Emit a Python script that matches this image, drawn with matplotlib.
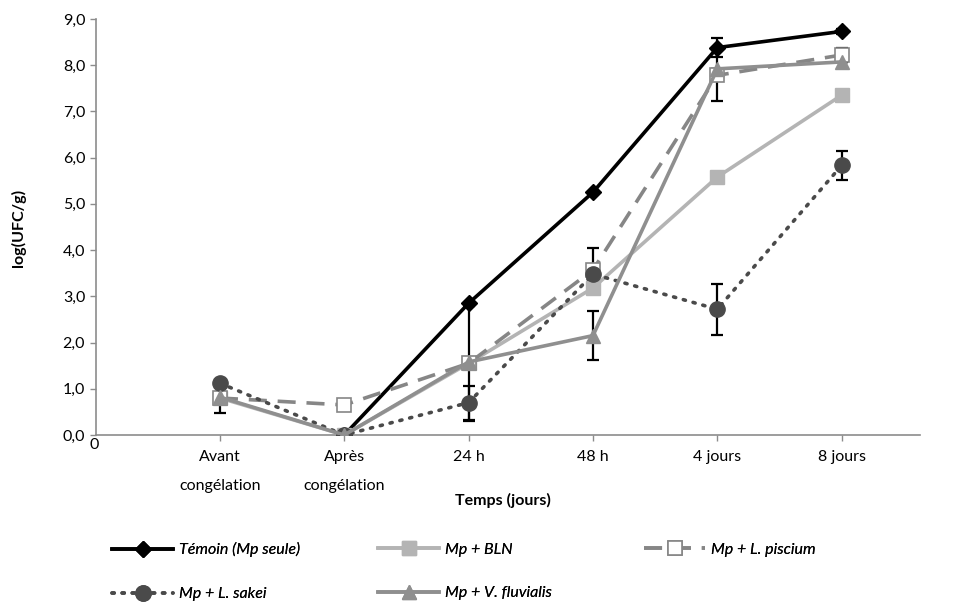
import numpy as np
import matplotlib
matplotlib.use("Agg")
import matplotlib.pyplot as plt
from matplotlib.ticker import FuncFormatter

plt.rcParams['font.family'] = ['Lato', 'DejaVu Sans']

categories = ["Avant\ncongélation", "Après\ncongélation", "24 h", "48 h", "4 jours", "8 jours"]
x_pos = [1, 2, 3, 4, 5, 6]

temoin = [np.nan, 0.0, 2.85, 5.25, 8.38, 8.73]
temoin_err = [0, 0, 0, 0, 0.2, 0.05]
bln = [0.8, 0.0, 1.55, 3.18, 5.58, 7.35]
bln_err = [0, 0, 0, 0, 0, 0]
piscium = [0.8, 0.65, 1.55, 3.57, 7.78, 8.22]
piscium_err = [0.33, 0.1, 1.25, 0.47, 0.55, 0.15]
sakei = [1.12, 0.0, 0.7, 3.48, 2.72, 5.83]
sakei_err = [0, 0, 0.37, 0, 0.55, 0.32]
fluvialis = [0.82, 0.0, 1.58, 2.15, 7.92, 8.07]
fluvialis_err = [0, 0, 0, 0.53, 0, 0]

fig = plt.figure(figsize=(9.57, 6.03), dpi=100)
ax = fig.add_axes([0.0999, 0.2786, 0.8614, 0.69])

err_kw = dict(ecolor="black", elinewidth=1.6, capsize=4, capthick=1.6, zorder=2)

def draw(y, err, **kw):
    ax.errorbar(x_pos, y, yerr=err, fmt="none", **err_kw)
    return ax.plot(x_pos, y, zorder=3, **kw)[0]

h_tem = draw(temoin, temoin_err, color="black", lw=2.6, marker="D", ms=8,
             label="Témoin (Mp seule)")
h_bln = draw(bln, bln_err, color="#b4b4b4", lw=2.6, marker="s", ms=10,
             label="Mp + BLN")
h_pis = draw(piscium, piscium_err, color="#868686", lw=2.6, ls=(0, (5, 3)), marker="s", ms=10,
             mfc="white", mec="#868686", mew=1.2, label="Mp + L. piscium")
h_sak = draw(sakei, sakei_err, color="#4a4a4a", lw=2.6, ls=(0, (0.6, 2.2)), dash_capstyle="round",
             marker="o", ms=11, label="Mp + L. sakei")
h_flu = draw(fluvialis, fluvialis_err, color="#8f8f8f", lw=2.6, marker="^", ms=10,
             label="Mp + V. fluvialis")

ax.set_xlim(0, 6.63)
ax.set_ylim(0, 9)
ax.set_yticks(np.arange(0, 10, 1))
ax.yaxis.set_major_formatter(FuncFormatter(lambda v, p: f"{v:.1f}".replace(".", ",")))
ax.set_xticks(x_pos)
ax.set_xticklabels(categories, linespacing=2.3, va="top")
ax.tick_params(axis="both", labelsize=11.5, color="#8c8c8c", length=4, width=1)
ax.tick_params(axis="x", pad=7)
for s in ["top", "right"]:
    ax.spines[s].set_visible(False)
for s in ["left", "bottom"]:
    ax.spines[s].set_color("#8c8c8c")
    ax.spines[s].set_linewidth(1.2)

fig.text(94 / 957, 1 - 445 / 603, "0", ha="center", va="center", fontsize=11.5)
fig.text(18 / 957, 1 - 228 / 603, "log(UFC/g)", rotation=90, ha="center", va="center",
         fontsize=11.5, fontweight="bold")
fig.text(503 / 957, 1 - 500 / 603, "Temps (jours)", ha="center", va="center",
         fontsize=11.5, fontweight="bold")

# one legend per column so the columns sit where Excel put them
columns = [([h_tem, h_sak], 106), ([h_bln, h_flu], 372), ([h_pis], 638)]
for hs, xpix in columns:
    leg = fig.legend(handles=hs, labels=[h.get_label() for h in hs],
                     loc="upper left", bbox_to_anchor=(xpix / 957, 1 - 536 / 603),
                     frameon=False, prop=dict(style="italic", size=11.5),
                     handlelength=3.8, handletextpad=0.4, labelspacing=1.85,
                     borderaxespad=0.0)
    fig.add_artist(leg)

fig.savefig("out.png", dpi=100)
